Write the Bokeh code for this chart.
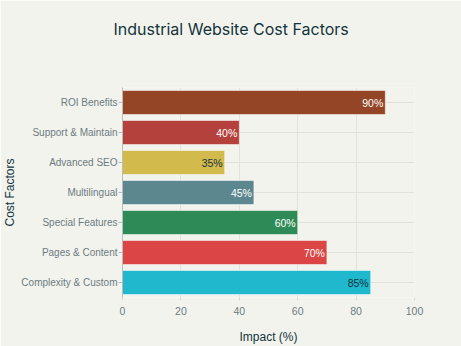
from bokeh.plotting import figure
from bokeh.models import ColumnDataSource, FactorRange, Range1d, Title
from bokeh.core.properties import value
from bokeh.embed import file_html
from bokeh.resources import INLINE

title_text = "Industrial Website Cost Factors"
categories = ["Complexity & Custom", "Pages & Content", "Special Features", "Multilingual",
              "Advanced SEO", "Support & Maintain", "ROI Benefits"]
impact = [85, 70, 60, 45, 35, 40, 90]
colors = ["#1FB8CD", "#DB4545", "#2E8B57", "#5D878F", "#D2BA4C", "#B4413C", "#944525"]
label_colors = ["#13343B", "#ffffff", "#ffffff", "#ffffff", "#13343B", "#ffffff", "#ffffff"]
labels = [f"{v}%" for v in impact]
x_ticks = [0, 20, 40, 60, 80, 100]

src = ColumnDataSource(dict(cat=categories, val=impact, color=colors,
                            lcolor=label_colors, label=labels))

bg = "#f3f3ee"
font = "Liberation Sans"
p = figure(width=461, height=346, y_range=FactorRange(factors=categories, range_padding=0),
           x_range=Range1d(0, 100), output_backend="svg", toolbar_location=None,
           background_fill_color=bg, border_fill_color=bg, outline_line_color=None,
           min_border_left=122, min_border_right=47, min_border_top=0, min_border_bottom=10,
           title=None)

# spacer (closest to the frame), then the real title above it
spacer = Title(text=" ", text_font_size="1px", standoff=26, text_color=bg)
p.add_layout(spacer, "above")
main_title = Title(text=title_text, align="left", offset=-9, vertical_align="top",
                   standoff=36, text_font="Inter", text_font_size="16px",
                   text_font_style="normal", text_color="#13343B")
p.add_layout(main_title, "above")

p.hbar(y="cat", right="val", left=0, height=0.8, fill_color="color",
       line_color="#ffffff", line_alpha=0.5, line_width=1, source=src)
p.text(x="val", y="cat", text="label", text_color="lcolor", text_align="right",
       text_baseline="middle", x_offset=-2, text_font=value(font),
       text_font_size="10.5px", source=src)

p.xaxis.ticker = x_ticks
p.xaxis.axis_label = "Impact (%)"
p.yaxis.axis_label = "Cost Factors"
for ax in (p.xaxis, p.yaxis):
    ax.axis_label_text_font = font
    ax.axis_label_text_font_size = "12px"
    ax.axis_label_text_font_style = "normal"
    ax.axis_label_text_color = "#13343B"
    ax.major_label_text_font = font
    ax.major_label_text_font_size = "10.5px"
    ax.major_label_text_color = "#6b7b80"
    ax.minor_tick_line_color = None
p.yaxis.major_label_text_font_size = "10px"
p.xaxis.axis_line_color = None
p.xaxis.major_tick_line_color = "#d8d8d4"
p.xaxis.major_tick_in = 0
p.xaxis.major_tick_out = 3
p.xaxis.major_label_standoff = 6
p.xaxis.axis_label_standoff = 12
p.yaxis.axis_line_color = "#b8bcbc"
p.yaxis.major_tick_line_color = "#b8bcbc"
p.yaxis.major_tick_in = 0
p.yaxis.major_tick_out = 4
p.yaxis.major_label_standoff = 1
p.yaxis.axis_label_standoff = 1
p.xgrid.grid_line_color = "#e2e2dd"
p.ygrid.grid_line_color = "#e2e2dd"

open("out.html", "w").write(file_html(p, INLINE))
